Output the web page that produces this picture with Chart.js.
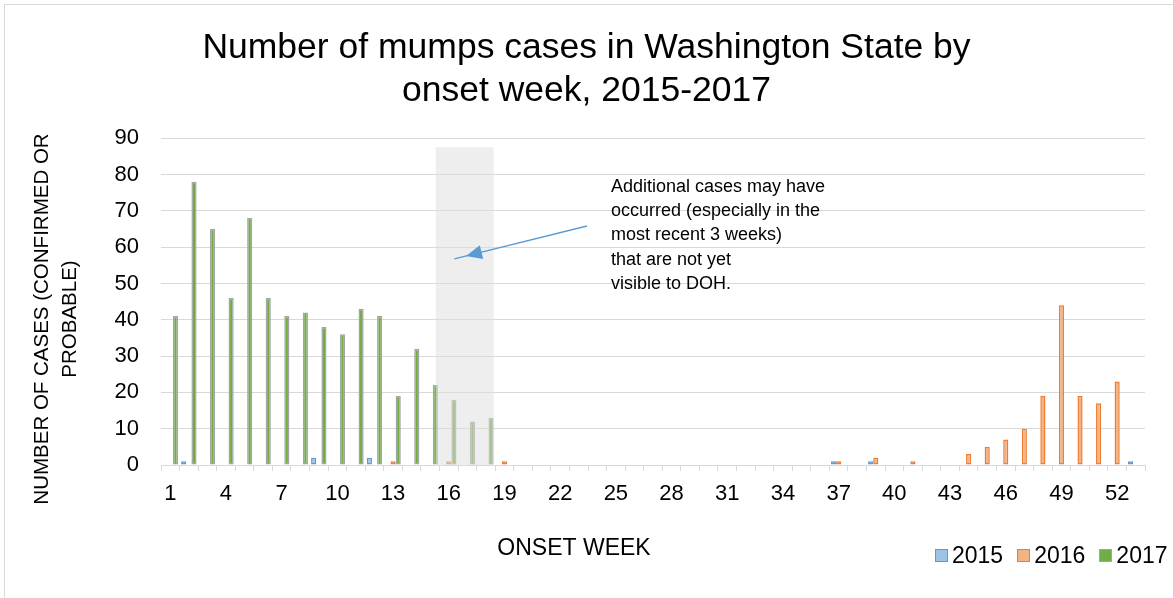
<!DOCTYPE html>
<html>
<head>
<meta charset="utf-8">
<title>Mumps cases in Washington State by onset week</title>
<script src="https://cdn.jsdelivr.net/npm/chart.js@4.4.0/dist/chart.umd.min.js"></script>
<style>
    body { margin: 0; background: #fff; font-family: "Liberation Sans", Arial, sans-serif; }
    #wrap { position: relative; width: 1173px; height: 598px; overflow: hidden; }
    #frame { position: absolute; left: 4px; top: 4px; width: 1200px; height: 620px;
             border-left: 1px solid #d9d9d9; border-top: 1px solid #d9d9d9; }
    #chart { position: absolute; left: 0; top: 0; }
    #legend { position: absolute; left: 935px; top: 541px; display: flex; align-items: center;
              font-size: 23px; line-height: 28px; color: #000; }
    .legend-item { display: flex; align-items: center; margin-right: 14px; }
    .legend-box { width: 11px; height: 11px; margin-right: 4px; border: 1px solid; }
</style>
</head>
<body>
<div id="wrap">
    <div id="frame"></div>
    <canvas id="chart" width="1173" height="598"></canvas>
    <div id="legend"></div>
</div>
<script>
// Onset weeks 1-53
const weeks = ['1', '2', '3', '4', '5', '6', '7', '8', '9', '10',
    '11', '12', '13', '14', '15', '16', '17', '18', '19', '20',
    '21', '22', '23', '24', '25', '26', '27', '28', '29', '30',
    '31', '32', '33', '34', '35', '36', '37', '38', '39', '40',
    '41', '42', '43', '44', '45', '46', '47', '48', '49', '50',
    '51', '52', '53'];

// Cases per week
const cases2015 = [0, 1, 0, 0, 0, 0, 0, 0, 2, 0,
    0, 2, 0, 0, 0, 0, 0, 0, 0, 0,
    0, 0, 0, 0, 0, 0, 0, 0, 0, 0,
    0, 0, 0, 0, 0, 0, 1, 0, 1, 0,
    0, 0, 0, 0, 0, 0, 0, 0, 0, 0,
    0, 0, 1];
const cases2016 = [0, 0, 0, 0, 0, 0, 0, 0, 0, 0,
    0, 0, 1, 0, 0, 1, 0, 0, 1, 0,
    0, 0, 0, 0, 0, 0, 0, 0, 0, 0,
    0, 0, 0, 0, 0, 0, 1, 0, 2, 0,
    1, 0, 0, 3, 5, 7, 10, 19, 44, 19,
    17, 23, 0];
const cases2017 = [41, 78, 65, 46, 68, 46, 41, 42, 38, 36,
    43, 41, 19, 32, 22, 18, 12, 13];

const yMax = 90;
const yStep = 10;

// Weeks still incomplete (shaded) and the note pointing at them
const shadeWeeks = ['16', '18'];
const shadeTop = 87.5;
const noteLines = [
    'Additional cases may have',
    'occurred (especially in the',
    'most recent 3 weeks)',
    'that are not yet',
    'visible to DOH.'
];

const titleLines = ['Number of mumps cases in Washington State by', 'onset week, 2015-2017'];
const yTitleLines = ['NUMBER OF CASES (CONFIRMED OR', 'PROBABLE)'];
const xTitle = 'ONSET WEEK';

const FONT = '"Liberation Sans", Arial, sans-serif';
Chart.defaults.font.family = FONT;
Chart.defaults.color = '#000';

// grey box over the last weeks, drawn on top so the bars fade
const shadePlugin = {
    id: 'shade',
    afterDatasetsDraw(chart) {
        const { ctx, scales: { x, y } } = chart;
        const step = x.getPixelForValue(1) - x.getPixelForValue(0);
        const left = x.getPixelForValue(weeks.indexOf(shadeWeeks[0])) - step * 0.7;
        const right = x.getPixelForValue(weeks.indexOf(shadeWeeks[1])) + step * 0.42;
        const top = y.getPixelForValue(shadeTop);
        const bottom = y.getPixelForValue(0);
        ctx.save();
        ctx.fillStyle = 'rgba(221, 221, 221, 0.5)';
        ctx.fillRect(left, top, right - left, bottom - top);
        ctx.restore();
    }
};

// note text + arrow, axis titles
const notesPlugin = {
    id: 'notes',
    afterDraw(chart) {
        const ctx = chart.ctx;
        ctx.save();

        // note
        ctx.fillStyle = '#000';
        ctx.font = '18px ' + FONT;
        ctx.textAlign = 'left';
        ctx.textBaseline = 'middle';
        noteLines.forEach((line, i) => ctx.fillText(line, 611, 187 + i * 24.2));

        // arrow
        const x1 = 587, y1 = 226, x2 = 466, y2 = 256;
        const ang = Math.atan2(y2 - y1, x2 - x1);
        ctx.strokeStyle = '#5b9bd5';
        ctx.fillStyle = '#5b9bd5';
        ctx.lineWidth = 1.3;
        ctx.beginPath();
        ctx.moveTo(x1, y1);
        ctx.lineTo(x2 + 12 * Math.cos(ang), y2 + 12 * Math.sin(ang));
        ctx.stroke();
        ctx.beginPath();
        ctx.moveTo(x2, y2);
        ctx.lineTo(x2 - 16 * Math.cos(ang) + 7 * Math.sin(ang), y2 - 16 * Math.sin(ang) - 7 * Math.cos(ang));
        ctx.lineTo(x2 - 16 * Math.cos(ang) - 7 * Math.sin(ang), y2 - 16 * Math.sin(ang) + 7 * Math.cos(ang));
        ctx.closePath();
        ctx.fill();

        // y axis title
        ctx.fillStyle = '#000';
        ctx.font = '20.5px ' + FONT;
        ctx.textAlign = 'center';
        ctx.textBaseline = 'middle';
        ctx.translate(42, 319);
        ctx.rotate(-Math.PI / 2);
        yTitleLines.forEach((line, i) => ctx.fillText(line, 0, i * 28));
        ctx.setTransform(1, 0, 0, 1, 0, 0);

        // x axis title
        ctx.font = '23px ' + FONT;
        ctx.fillText(xTitle, 574, 549);
        ctx.restore();
    }
};

const datasets = [
    { label: '2015', data: cases2015, backgroundColor: '#9dc3e6', borderColor: '#5b9bd5' },
    { label: '2016', data: cases2016, backgroundColor: '#f4b183', borderColor: '#ed7d31' },
    { label: '2017', data: cases2017, backgroundColor: '#70ad47', borderColor: '#a5a5a5' }
].map(d => ({
    ...d,
    borderWidth: 1.5,
    borderSkipped: false,
    categoryPercentage: 0.832,
    barPercentage: 1
}));

const chart = new Chart(document.getElementById('chart'), {
    type: 'bar',
    data: { labels: weeks, datasets: datasets },
    options: {
        responsive: false,
        animation: false,
        layout: { padding: { left: 0, right: 0, top: 0, bottom: 0 } },
        plugins: {
            legend: { display: false },
            tooltip: { enabled: false },
            title: {
                display: true,
                text: titleLines,
                font: { size: 35.5, weight: 'normal', lineHeight: 1.2 },
                color: '#000',
                padding: { top: 27, bottom: 26 }
            }
        },
        scales: {
            x: {
                afterFit: (scale) => { scale.height = 133; },
                grid: { drawOnChartArea: false, drawTicks: true, tickLength: 6, color: '#d9d9d9', offset: true },
                border: { display: true, color: '#d9d9d9' },
                ticks: {
                    autoSkip: false,
                    maxRotation: 0,
                    padding: 10,
                    font: { size: 22 },
                    callback: (v, i) => (i % 3 === 0 ? weeks[i] : '')
                }
            },
            y: {
                min: 0,
                max: yMax,
                afterFit: (scale) => { scale.width = 161; },
                grid: { color: '#d9d9d9', drawTicks: false },
                border: { display: false },
                ticks: { stepSize: yStep, padding: 22, font: { size: 22 } }
            },
            // empty right margin so the plot ends where the original does
            yRight: {
                position: 'right',
                afterFit: (scale) => { scale.width = 28; },
                grid: { display: false },
                border: { display: false },
                ticks: { display: false }
            }
        }
    },
    plugins: [shadePlugin, notesPlugin]
});

// legend
document.getElementById('legend').innerHTML = chart.data.datasets.map(ds => `
    <div class="legend-item">
        <span class="legend-box" style="background:${ds.backgroundColor};border-color:${ds.borderColor}"></span>
        <span>${ds.label}</span>
    </div>`).join('');
</script>
</body>
</html>
